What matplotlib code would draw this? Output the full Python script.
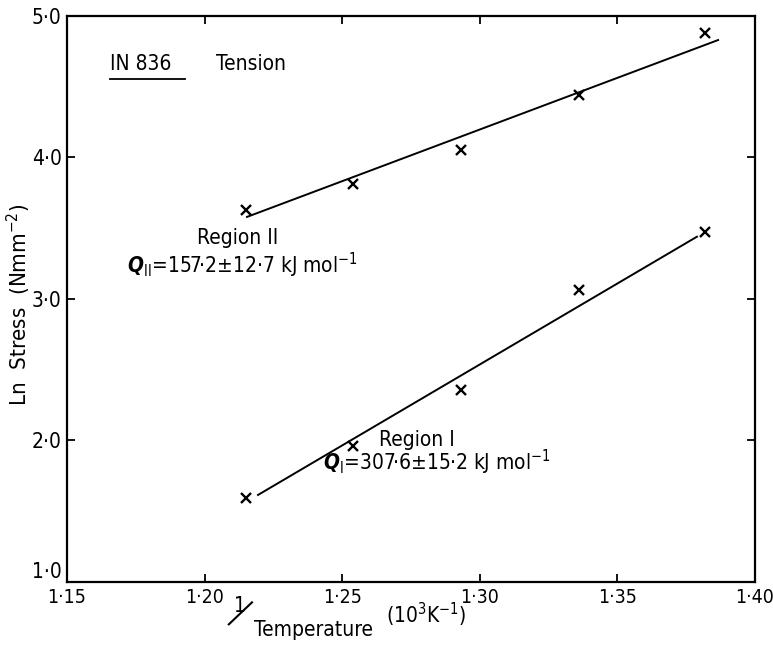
import numpy as np
import matplotlib.pyplot as plt
from matplotlib.lines import Line2D

plt.rcParams['font.family'] = ['DejaVu Sans']
plt.rcParams['font.stretch'] = 'condensed'
plt.rcParams['mathtext.fontset'] = 'custom'
plt.rcParams['mathtext.rm'] = 'DejaVu Sans'
plt.rcParams['mathtext.bf'] = 'DejaVu Sans:bold:italic'

# 1/T (10^3 K^-1), gleiche Temperaturen fuer beide Bereiche
inv_t = [1.215, 1.254, 1.293, 1.336, 1.382]
# ln Spannung
ln_s_region2 = [3.63, 3.81, 4.05, 4.44, 4.88]
ln_s_region1 = [1.59, 1.96, 2.36, 3.06, 3.47]

# Ausgleichsgeraden (Anfang, Ende)
fit2_x = [1.2154, 1.3866]
fit2_y = [3.58, 4.83]
fit1_x = [1.2194, 1.3789]
fit1_y = [1.615, 3.44]

x_ticks = [1.15, 1.20, 1.25, 1.30, 1.35, 1.40]
y_ticks = [1.0, 2.0, 3.0, 4.0, 5.0]

DOT = '\u00b7'
PM = '\u00b1'

fig = plt.figure(figsize=(7.73, 6.47), dpi=100)
ax = fig.add_axes([0.0867, 0.1005, 0.89, 0.8748])

ax.plot(fit2_x, fit2_y, color='black', lw=1.4)
ax.plot(fit1_x, fit1_y, color='black', lw=1.4)
ax.plot(inv_t, ln_s_region2, 'x', color='black', ms=7, mew=1.7)
ax.plot(inv_t, ln_s_region1, 'x', color='black', ms=7, mew=1.7)

ax.set_xlim(1.15, 1.40)
ax.set_ylim(1.0, 5.0)
ax.set_xticks(x_ticks)
ax.set_xticklabels([f"{v:.2f}".replace('.', DOT) for v in x_ticks])
ax.set_yticks(y_ticks)
ax.set_yticklabels([f"{v:.1f}".replace('.', DOT) for v in y_ticks])
ax.tick_params(direction='in', length=6, width=1.3, top=True, right=True,
               labelsize=15, pad=4)
ax.tick_params(axis='x', labelsize=14)
ax.get_yticklabels()[0].set_va('bottom')
for sp in ax.spines.values():
    sp.set_linewidth(1.6)

# Beschriftungen im Diagramm
ax.text(0.0625, 0.915, "IN 836", transform=ax.transAxes, fontsize=15,
        va='center', ha='left')
ax.add_line(Line2D([0.062, 0.171], [0.889, 0.889], transform=ax.transAxes,
                   color='black', lw=1.3))
ax.text(0.217, 0.915, "Tension", transform=ax.transAxes, fontsize=15,
        va='center', ha='left')

ax.text(1.212, 3.43, "Region II", fontsize=15, ha='center', va='center')
ax.text(1.1718, 3.24,
        r"$\mathbf{Q}_{\mathrm{II}}$=157" + DOT + "2" + PM + "12" + DOT + r"7 kJ mol$^{-1}$",
        fontsize=15, ha='left', va='center')
ax.text(1.2635, 2.0, "Region I", fontsize=15, ha='left', va='center')
ax.text(1.243, 1.845,
        r"$\mathbf{Q}_{\mathrm{I}}$=307" + DOT + "6" + PM + "15" + DOT + r"2 kJ mol$^{-1}$",
        fontsize=15, ha='left', va='center')

# Achsenbeschriftungen
fig.text(0.024, 0.529, r"Ln  Stress  (Nmm$^{-2}$)", rotation=90, fontsize=16,
         ha='center', va='center')
fig.text(0.311, 0.064, "1", fontsize=15, ha='center', va='center')
fig.add_artist(Line2D([0.296, 0.326], [0.035, 0.069], transform=fig.transFigure,
                      color='black', lw=1.5))
fig.text(0.329, 0.026, "Temperature", fontsize=15, ha='left', va='center')
fig.text(0.500, 0.050, r"(10$^{3}$K$^{-1}$)", fontsize=15, ha='left', va='center')

fig.savefig("out.png", dpi=100)
